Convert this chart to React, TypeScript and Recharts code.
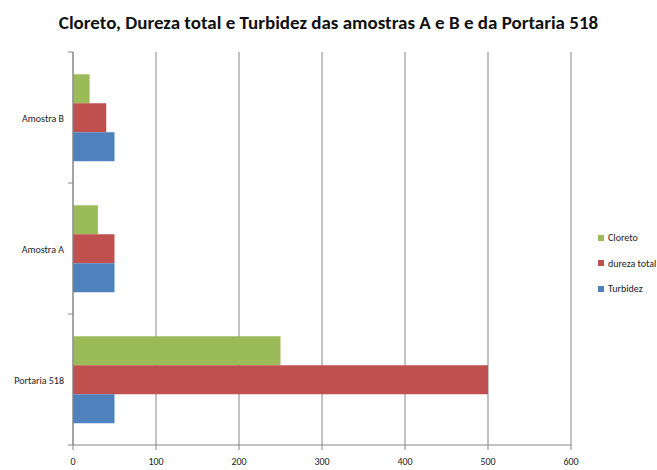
import { BarChart, Bar, XAxis, YAxis, CartesianGrid } from "recharts"

const categories = ["Amostra B", "Amostra A", "Portaria 518"]
const cloreto = [20, 30, 250]
const durezaTotal = [40, 50, 500]
const turbidez = [50, 50, 50]
const xTicks = [0, 100, 200, 300, 400, 500, 600]

const series = [
  { key: "cloreto", name: "Cloreto", color: "#9BBB59" },
  { key: "dureza", name: "dureza total", color: "#C0504D" },
  { key: "turbidez", name: "Turbidez", color: "#4F81BD" },
]

const data = categories.map((name, i) => ({
  name,
  cloreto: cloreto[i],
  dureza: durezaTotal[i],
  turbidez: turbidez[i],
}))

const FONT = "Calibri, Carlito, 'Liberation Sans Narrow', 'Open Sans', sans-serif"
const GRID = "#868686"

// category label plus Excel-style tick mark at the band boundary
function CategoryTick(props: any) {
  const { x, y, payload, index } = props
  const half = payload.offset || 65
  const axisX = x + 8
  return (
    <g>
      <text x={x - 1} y={y} dy={4} textAnchor="end" fontSize={10} fill="#222" fontFamily={FONT}>
        {payload.value}
      </text>
      {index === 0 && <line x1={axisX - 5} x2={axisX} y1={y - half} y2={y - half} stroke={GRID} />}
      <line x1={axisX - 5} x2={axisX} y1={y + half} y2={y + half} stroke={GRID} />
    </g>
  )
}

export default function App() {
  return (
    <div style={{ position: "absolute", left: 0, top: 0, width: 657, height: 470, background: "#fff" }}>
      <div
        style={{
          position: "absolute",
          top: 11,
          left: 0,
          width: 657,
          textAlign: "center",
          fontFamily: FONT,
          fontWeight: "bold",
          fontSize: 19,
          color: "#111",
        }}
      >
        Cloreto, Dureza total e Turbidez das amostras A e B e da Portaria 518
      </div>
      <BarChart
        width={657}
        height={470}
        data={data}
        layout="vertical"
        margin={{ top: 52, right: 86, left: 8, bottom: 0 }}
        barCategoryGap="17%"
        barGap={0}
      >
        <CartesianGrid horizontal={false} stroke={GRID} strokeWidth={1} />
        <XAxis
          type="number"
          domain={[0, 600]}
          ticks={xTicks}
          interval={0}
          height={25}
          stroke={GRID}
          tickSize={5}
          tick={{ fontSize: 10, fill: "#222", fontFamily: FONT, dy: 6 }}
        />
        <YAxis
          type="category"
          dataKey="name"
          width={65}
          stroke={GRID}
          tickLine={false}
          tick={<CategoryTick />}
        />
        {series.map((s) => (
          <Bar key={s.key} dataKey={s.key} name={s.name} fill={s.color} isAnimationActive={false} />
        ))}
      </BarChart>
      <div
        style={{
          position: "absolute",
          left: 598,
          top: 225,
          fontFamily: FONT,
          fontSize: 10,
          color: "#222",
        }}
      >
        {series.map((s) => (
          <div key={s.key} style={{ display: "flex", alignItems: "center", height: 25.5 }}>
            <span style={{ width: 6, height: 6, background: s.color, marginRight: 4, display: "inline-block" }} />
            {s.name}
          </div>
        ))}
      </div>
    </div>
  )
}
